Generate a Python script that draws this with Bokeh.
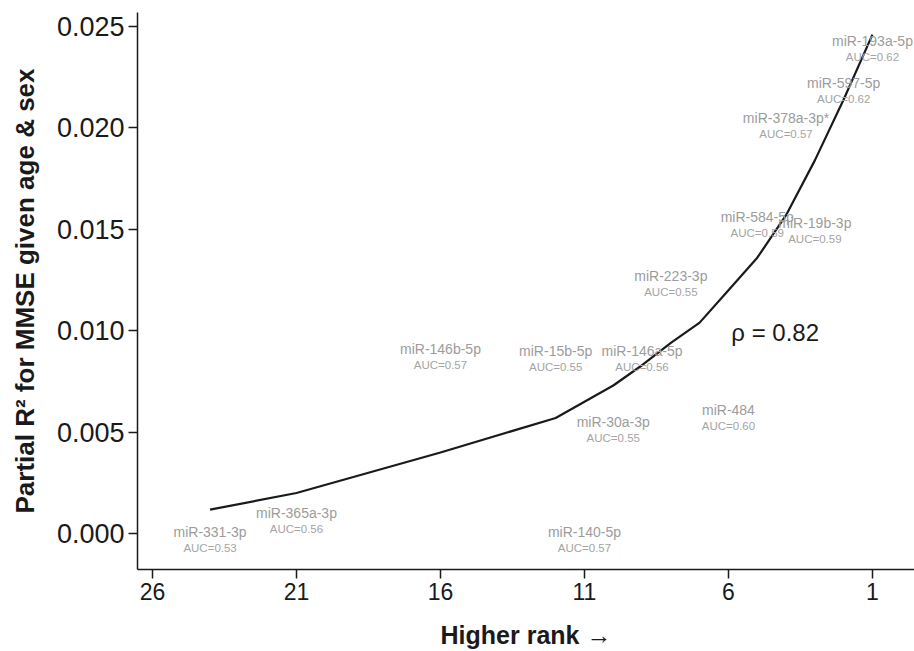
from bokeh.plotting import figure
from bokeh.models import ColumnDataSource, Range1d, FixedTicker, Label, CustomJSTickFormatter
from bokeh.core.properties import value
from bokeh.embed import file_html
from bokeh.resources import INLINE

# smoothed curve (rank, partial R2)
curve_rank = [24, 21, 16, 12, 11, 10, 9, 8, 7, 6, 5, 4, 3, 2, 1]
curve_val = [0.00118, 0.0020, 0.0040, 0.0057, 0.0065, 0.0073, 0.0083, 0.0094,
             0.0104, 0.0120, 0.0136, 0.0157, 0.0184, 0.0214, 0.0246]

# labelled miRNAs
mirna = ["miR-193a-5p", "miR-597-5p", "miR-378a-3p*", "miR-19b-3p", "miR-584-5p",
         "miR-484", "miR-223-3p", "miR-146a-5p", "miR-30a-3p", "miR-140-5p",
         "miR-15b-5p", "miR-146b-5p", "miR-365a-3p", "miR-331-3p"]
mirna_rank = [1, 2, 4, 3, 5, 6, 8, 9, 10, 11, 12, 16, 21, 24]
mirna_r2 = [0.0239, 0.0218, 0.0201, 0.0149, 0.0152, 0.0057, 0.0123, 0.0086,
            0.0051, -0.0003, 0.0086, 0.0087, 0.0006, -0.0003]
mirna_auc = [0.62, 0.62, 0.57, 0.59, 0.59, 0.60, 0.55, 0.56, 0.55, 0.57,
             0.55, 0.57, 0.56, 0.53]

x_ticks = [26, 21, 16, 11, 6, 1]
y_ticks = [0.000, 0.005, 0.010, 0.015, 0.020, 0.025]
rho_text = "ρ = 0.82"

FONT = "Liberation Sans"

p = figure(width=914, height=651, output_backend="svg", toolbar_location=None,
           x_range=Range1d(26.52, -0.46), y_range=Range1d(-0.00177, 0.02569),
           min_border_left=137, min_border_right=0, min_border_top=12,
           min_border_bottom=80)
p.outline_line_color = None
p.grid.visible = False
p.background_fill_color = "white"
p.border_fill_color = "white"

p.line(curve_rank, curve_val, line_color="#1a1a1a", line_width=2.2)

src = ColumnDataSource(dict(
    x=mirna_rank, y=mirna_r2, name=mirna,
    auc=["AUC=%.2f" % a for a in mirna_auc]))
p.text(x="x", y="y", text="name", source=src, text_align="center",
       text_baseline="middle", y_offset=-8, text_color="#9c9c9c",
       text_font=value(FONT), text_font_size="14px")
p.text(x="x", y="y", text="auc", source=src, text_align="center",
       text_baseline="middle", y_offset=8, text_color="#a4a4a4",
       text_font=value(FONT), text_font_size="11.5px")

p.add_layout(Label(x=5.9, y=0.00992, text=rho_text, text_align="left",
                   text_baseline="middle", text_font=FONT,
                   text_font_size="24px", text_color="#1a1a1a"))

for ax in (p.xaxis[0], p.yaxis[0]):
    ax.axis_line_color = "#1a1a1a"
    ax.axis_line_width = 1.5
    ax.major_tick_line_color = "#1a1a1a"
    ax.major_tick_line_width = 1.5
    ax.major_tick_in = 0
    ax.major_tick_out = 9
    ax.minor_tick_line_color = None
    ax.major_label_text_font = FONT
    ax.major_label_text_color = "#1a1a1a"
    ax.axis_label_text_font = FONT
    ax.axis_label_text_font_style = "bold"
    ax.axis_label_text_color = "#1a1a1a"

p.xaxis.ticker = FixedTicker(ticks=x_ticks)
p.yaxis.ticker = FixedTicker(ticks=y_ticks)
p.yaxis.formatter = CustomJSTickFormatter(code="return tick.toFixed(3);")

p.xaxis.major_label_text_font_size = "23px"
p.yaxis.major_label_text_font_size = "27px"
p.xaxis.major_label_standoff = 4
p.yaxis.major_label_standoff = 4

p.xaxis.axis_label = "Higher rank →"
p.yaxis.axis_label = "Partial R² for MMSE given age & sex"
p.xaxis.axis_label_text_font_size = "25px"
p.yaxis.axis_label_text_font_size = "26px"
p.xaxis.axis_label_standoff = 18
p.yaxis.axis_label_standoff = 14

open("out.html", "w").write(file_html(p, INLINE))
